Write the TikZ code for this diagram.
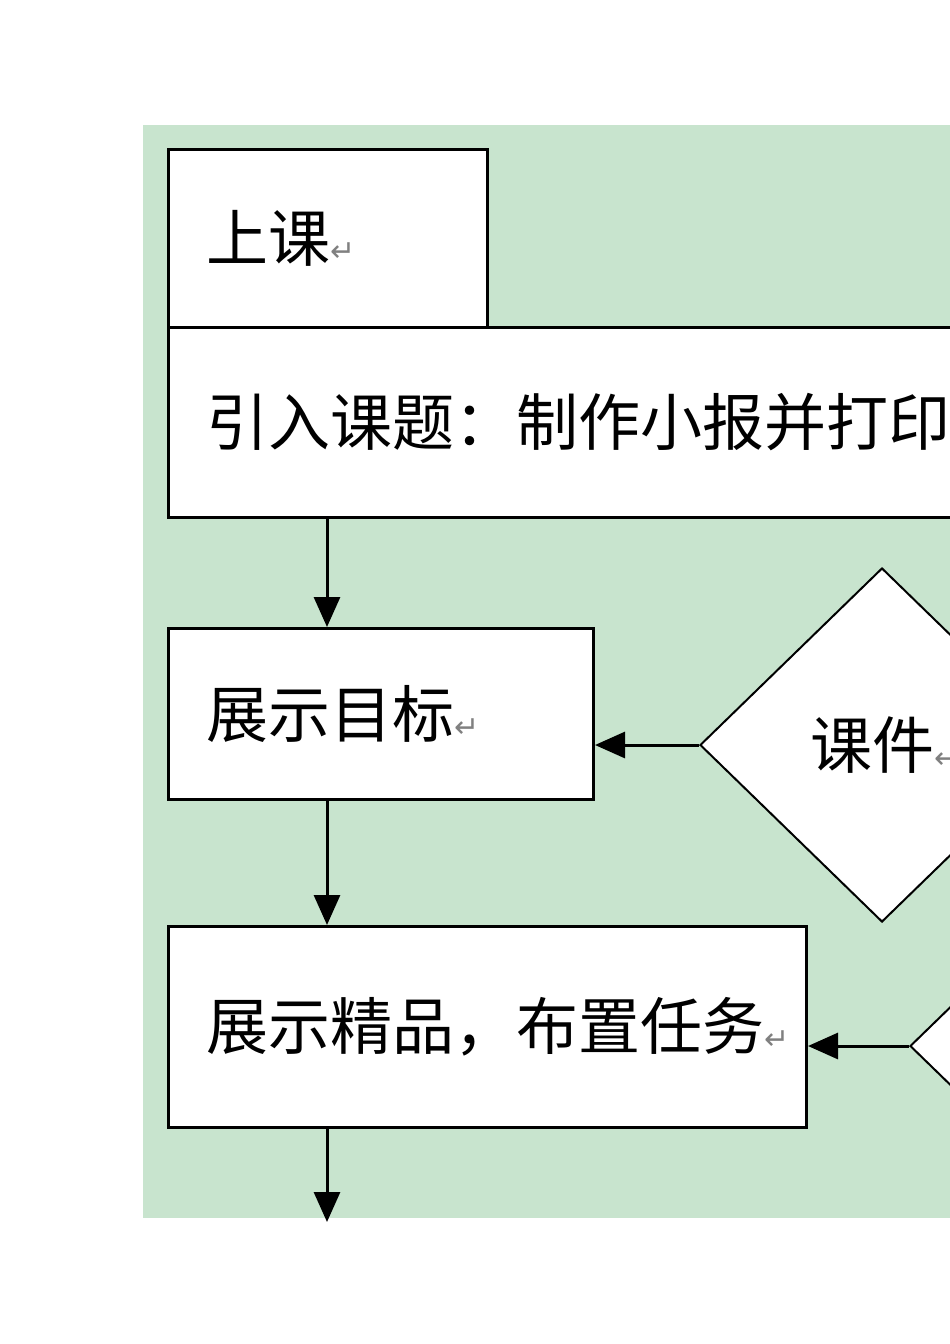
\documentclass[tikz,border=0pt]{standalone}
\usepackage{fontspec}
\setmainfont{Noto Sans CJK SC}
\newfontfamily\symf{DejaVu Sans}
\usetikzlibrary{shapes.geometric,arrows.meta}
\definecolor{bg}{RGB}{200,228,206}
\newcommand{\ret}{{\symf\color{gray}\fontsize{30}{30}\selectfont ↵}}
\tikzset{
  box/.style={draw=black,line width=3pt,fill=white,anchor=north west,inner xsep=38pt,align=left,font=\fontsize{62}{70}\selectfont},
  dia/.style={diamond,draw=black,line width=2pt,fill=white,inner sep=0pt,font=\fontsize{62}{70}\selectfont},
  arr/.style={line width=3pt,-{Triangle[length=30pt,width=26pt]}}
}
\begin{document}
\begin{tikzpicture}[x=1pt,y=-1pt]
\useasboundingbox (0,0) rectangle (950,1344);
\clip (0,0) rectangle (950,1344);
\fill[white] (0,0) rectangle (950,1344);
\fill[bg] (143,125) rectangle (950,1218);
\node[box,minimum width=319pt,minimum height=178pt,text width=243pt] (b1) at (167,148) {上课\ret};
\node[box,minimum width=900pt,minimum height=190pt,text width=824pt] (b2) at (167,326) {引入课题：制作小报并打印};
\node[box,minimum width=425pt,minimum height=171pt,text width=349pt] (b3) at (167,627) {展示目标\ret};
\node[box,minimum width=638pt,minimum height=201pt,text width=562pt] (b4) at (167,925) {展示精品，布置任务\ret};
\node[dia,minimum width=364pt,minimum height=354pt] (d1) at (882,745) {\makebox[144pt][l]{课件\ret}};
\node[dia,minimum width=364pt,minimum height=354pt] (d2) at (1092,1046) {};
\coordinate (e) at (327,1222);
\draw[arr] (327,516) -- (327,627);
\draw[arr] (327,798) -- (327,925);
\draw[arr] (d1.west) -- (b3.east |- d1.west);
\draw[arr] (d2.west) -- (b4.east |- d2.west);
\draw[arr] (327,1126) -- (e);
\end{tikzpicture}
\end{document}
